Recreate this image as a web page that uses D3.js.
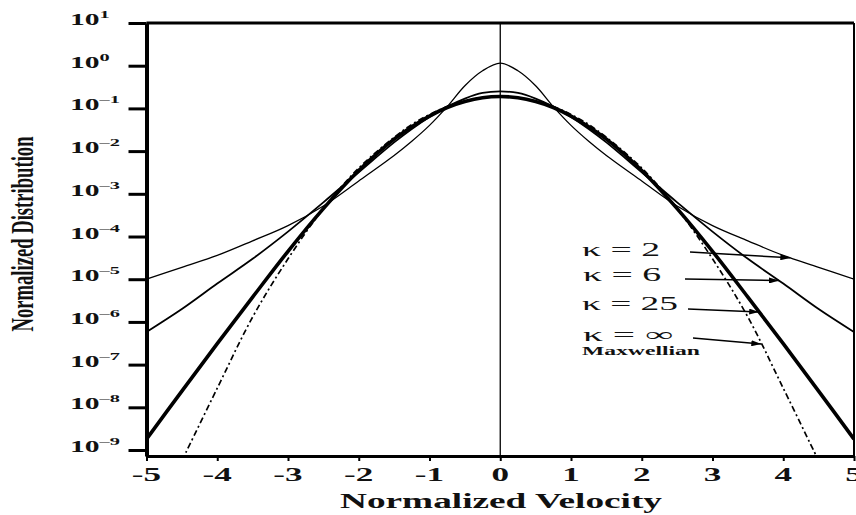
<!DOCTYPE html>
<html>
<head>
<meta charset="utf-8">
<script src="https://cdn.jsdelivr.net/npm/d3@7"></script>
<style>
  html, body { margin: 0; padding: 0; background: #fff; }
  svg { display: block; }
</style>
</head>
<body>
<svg id="chart"></svg>
<script>
// normalized velocity samples (shared by all curves)
const velocity = [-5, -4.5, -4, -3.5, -3, -2.5, -2, -1.5, -1.25, -1, -0.75, -0.5, -0.25, 0,
                  0.25, 0.5, 0.75, 1, 1.25, 1.5, 2, 2.5, 3, 3.5, 4, 4.5, 5];

// values
const kappa2 = [1.0e-5, 1.9e-5, 3.6e-5, 7.9e-5, 1.8e-4, 5.2e-4, 2.0e-3, 7.9e-3, 1.7e-2, 4.0e-2, 0.11, 0.34, 0.76, 1.15,
                0.76, 0.34, 0.11, 4.0e-2, 1.7e-2, 7.9e-3, 2.0e-3, 5.2e-4, 1.8e-4, 7.9e-5, 3.6e-5, 1.9e-5, 1.0e-5];
const kappa6 = [5.8e-7, 2.0e-6, 7.9e-6, 3.0e-5, 1.3e-4, 6.3e-4, 3.2e-3, 1.6e-2, 3.3e-2, 6.3e-2, 0.11, 0.17, 0.23, 0.25,
                0.23, 0.17, 0.11, 6.3e-2, 3.3e-2, 1.6e-2, 3.2e-3, 6.3e-4, 1.3e-4, 3.0e-5, 7.9e-6, 2.0e-6, 5.8e-7];
const kappa25 = [1.8e-9, 2.4e-8, 3.1e-7, 3.8e-6, 4.5e-5, 4.5e-4, 3.5e-3, 1.9e-2, 3.7e-2, 6.6e-2, 0.105, 0.145, 0.178, 0.19,
                 0.178, 0.145, 0.105, 6.6e-2, 3.7e-2, 1.9e-2, 3.5e-3, 4.5e-4, 4.5e-5, 3.8e-6, 3.1e-7, 2.4e-8, 1.8e-9];
const maxwellian = [null, 5.6e-10, 2.8e-8, 1.3e-6, 3.0e-5, 4.5e-4, 4.0e-3, 2.1e-2, 4.2e-2, 7.2e-2, 0.11, 0.148, 0.178, 0.19,
                    0.178, 0.148, 0.11, 7.2e-2, 4.2e-2, 2.1e-2, 4.0e-3, 4.5e-4, 3.0e-5, 1.3e-6, 2.8e-8, 5.6e-10, null];

const xTicks = [-5, -4, -3, -2, -1, 0, 1, 2, 3, 4, 5];
const yExponents = [1, 0, -1, -2, -3, -4, -5, -6, -7, -8, -9];

const legendLabels = ['\u03ba = 2', '\u03ba = 6', '\u03ba = 25', '\u03ba = \u221e'];
const arrowTargets = [4.1, 3.94, 3.66, 3.69];   // velocity where each arrow meets its curve

const width = 856, height = 515;
const serif = '"Liberation Serif", "Times New Roman", serif';
const SX = 1.85;   // the original figure is stretched sideways

const x = d3.scaleLinear().domain([-5, 5]).range([146.5, 854]);
const y = d3.scaleLog().domain([Math.pow(10, -9.14), 10]).range([456, 23]);

const svg = d3.select('#chart')
    .attr('width', width)
    .attr('height', height)
    .style('background', '#fff');

svg.append('defs').append('clipPath').attr('id', 'plot')
  .append('rect')
    .attr('x', x(-5)).attr('y', y(10))
    .attr('width', x(5) - x(-5)).attr('height', y.range()[0] - y(10));

svg.select('defs').append('marker')
    .attr('id', 'arrow')
    .attr('viewBox', '0 0 10 6')
    .attr('refX', 10).attr('refY', 3)
    .attr('markerWidth', 10).attr('markerHeight', 6)
    .attr('markerUnits', 'userSpaceOnUse')
    .attr('orient', 'auto')
  .append('path')
    .attr('d', 'M0,0L10,3L0,6Z')
    .attr('fill', '#000');

// frame
svg.append('line')
    .attr('x1', x(-5)).attr('x2', x(5))
    .attr('y1', y(10)).attr('y2', y(10))
    .attr('stroke', '#000').attr('stroke-width', 3);
svg.append('line')
    .attr('x1', x(5)).attr('x2', x(5))
    .attr('y1', y(10)).attr('y2', y.range()[0])
    .attr('stroke', '#000').attr('stroke-width', 2);
svg.append('line')
    .attr('x1', x(0)).attr('x2', x(0))
    .attr('y1', y(10)).attr('y2', y.range()[0])
    .attr('stroke', '#000').attr('stroke-width', 1.3);

// curves
const line = series => d3.line()
    .defined((d, i) => series[i] != null)
    .x((d, i) => x(velocity[i]))
    .y((d, i) => y(series[i]))
    .curve(d3.curveCatmullRom.alpha(0.5))(velocity);

const curves = [
  {data: kappa2, width: 1.3, dash: null},
  {data: kappa6, width: 1.8, dash: null},
  {data: kappa25, width: 3.6, dash: null},
  {data: maxwellian, width: 1.7, dash: '6,3,2,3'}
];

svg.append('g')
    .attr('clip-path', 'url(#plot)')
  .selectAll('path')
  .data(curves)
  .join('path')
    .attr('d', d => line(d.data))
    .attr('fill', 'none')
    .attr('stroke', '#000')
    .attr('stroke-width', d => d.width)
    .attr('stroke-dasharray', d => d.dash)
    .attr('stroke-linejoin', 'round');

// axes
const xAxis = svg.append('g')
    .attr('transform', `translate(0,${y.range()[0]})`)
    .call(d3.axisBottom(x).tickValues(xTicks).tickSize(5).tickSizeOuter(0).tickFormat(''));
xAxis.select('.domain').attr('stroke-width', 3);
xAxis.selectAll('.tick line').attr('stroke-width', 2);

const yAxis = svg.append('g')
    .attr('transform', `translate(${x(-5)},0)`)
    .call(d3.axisLeft(y).tickValues(yExponents.map(e => Math.pow(10, e)))
      .tickSize(18).tickSizeOuter(0).tickFormat(''));
yAxis.select('.domain').attr('stroke-width', 4);
yAxis.selectAll('.tick line').attr('stroke-width', 3);

svg.append('g')
  .selectAll('text')
  .data(xTicks)
  .join('text')
    .attr('transform', d => `translate(${x(d)},481) scale(${SX},1)`)
    .attr('text-anchor', 'middle')
    .attr('font-family', serif)
    .attr('font-weight', 'bold')
    .attr('font-size', 19)
    .attr('fill', '#111')
    .text(d => d < 0 ? '-' + (-d) : d);

const yLab = svg.append('g')
  .selectAll('text')
  .data(yExponents)
  .join('text')
    .attr('transform', e => `translate(70,${y(Math.pow(10, e)) + 2}) scale(${SX},1)`)
    .attr('font-family', serif)
    .attr('font-weight', 'bold')
    .attr('font-size', 16)
    .attr('fill', '#111')
    .text('10');
yLab.append('tspan')
    .attr('dy', -7)
    .attr('font-size', 11)
    .text(e => e < 0 ? '\u2013' + (-e) : e);

// titles
svg.append('text')
    .attr('x', 501).attr('y', 508)
    .attr('text-anchor', 'middle')
    .attr('font-family', serif)
    .attr('font-weight', 'bold')
    .attr('font-size', 20)
    .attr('textLength', 322)
    .attr('lengthAdjust', 'spacingAndGlyphs')
    .attr('fill', '#111')
    .text('Normalized Velocity');

svg.append('text')
    .attr('transform', `translate(33,234) rotate(-90) scale(1,${SX})`)
    .attr('text-anchor', 'middle')
    .attr('font-family', serif)
    .attr('font-weight', 'bold')
    .attr('font-size', 16.5)
    .attr('textLength', 195)
    .attr('lengthAdjust', 'spacingAndGlyphs')
    .attr('fill', '#111')
    .text('Normalized Distribution');

// legend with arrows
const legendSeries = [kappa2, kappa6, kappa25, maxwellian];
const legendRows = [
  {tx: 582, ty: 256, len: 78, ax: 690, ay: 252},
  {tx: 583, ty: 281, len: 78, ax: 685, ay: 279},
  {tx: 582, ty: 310, len: 96, ax: 688, ay: 309},
  {tx: 583, ty: 341, len: 90, ax: 693, ay: 338}
];

function valueAt(series, v) {
  const i = d3.bisectRight(velocity, v) - 1;
  const t = (v - velocity[i]) / (velocity[i + 1] - velocity[i]);
  const a = Math.log10(series[i]), b = Math.log10(series[i + 1]);
  return Math.pow(10, a + t * (b - a));
}

const legend = svg.append('g');
legendLabels.forEach((label, k) => {
  const r = legendRows[k];
  legend.append('text')
      .attr('x', r.tx).attr('y', r.ty)
      .attr('font-family', serif)
      .attr('font-size', 19)
      .attr('textLength', r.len)
      .attr('lengthAdjust', 'spacingAndGlyphs')
      .attr('fill', '#111')
      .text(label);
  const v = arrowTargets[k];
  legend.append('line')
      .attr('x1', r.ax).attr('y1', r.ay)
      .attr('x2', x(v)).attr('y2', y(valueAt(legendSeries[k], v)))
      .attr('stroke', '#000')
      .attr('stroke-width', 1.5)
      .attr('marker-end', 'url(#arrow)');
});

legend.append('text')
    .attr('x', 582).attr('y', 355)
    .attr('font-family', serif)
    .attr('font-weight', 'bold')
    .attr('font-size', 13)
    .attr('textLength', 118)
    .attr('lengthAdjust', 'spacingAndGlyphs')
    .attr('fill', '#111')
    .text('Maxwellian');
</script>
</body>
</html>
